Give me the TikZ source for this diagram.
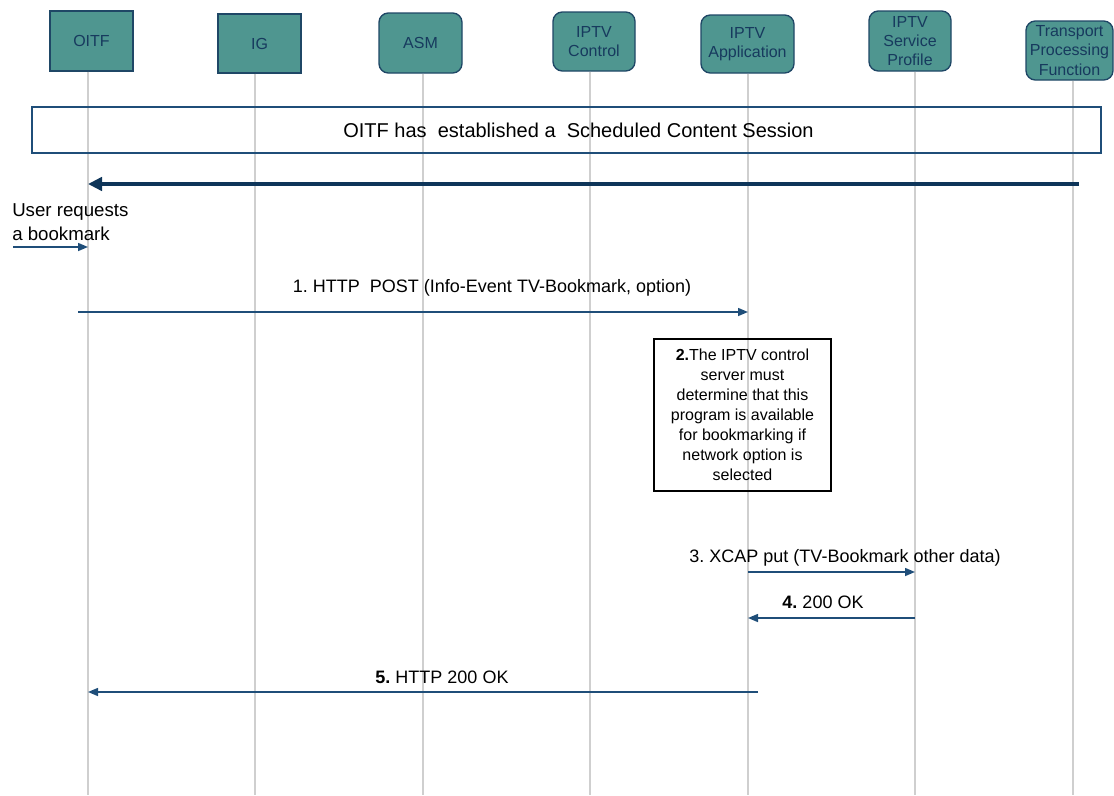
\documentclass[tikz,border=0pt]{standalone}
\usepackage{fontspec}
\setmainfont{Liberation Sans}
\usepackage{xcolor}
\definecolor{ActorTeal}{HTML}{4F9690}
\definecolor{ActorEdge}{HTML}{1F4766}
\definecolor{ActorText}{HTML}{173A5E}
\definecolor{MsgNavy}{HTML}{1F4E79}
\definecolor{FlowNavy}{HTML}{0E3559}
\definecolor{LifeGray}{HTML}{CFCFCF}
\usepackage{tikz}
\usetikzlibrary{arrows.meta,positioning,calc}
\frenchspacing

\begin{document}
\begin{tikzpicture}[x=0.75pt, y=-0.75pt,
    actorbox/.style={draw=ActorEdge, line width=1pt, fill=ActorTeal, text=ActorText,
      font=\fontsize{12}{14.4}\selectfont, align=center, inner sep=0pt},
    actorround/.style={actorbox, rounded corners=7pt},
    lifeline/.style={draw=LifeGray, line width=1.1pt},
    msg/.style={draw=MsgNavy, line width=1.1pt, -{Triangle[length=7.5pt,width=6pt]}},
    msglabel/.style={font=\fontsize{13.5}{16}\selectfont, inner sep=0pt, anchor=base},
    flow/.style={draw=FlowNavy, line width=3.4pt, -{Triangle[length=10.5pt,width=10pt]}},
    notebox/.style={draw=black, line width=0.8pt, align=center, minimum width=132.75pt,
      minimum height=114pt, font=\fontsize{12}{15}\selectfont, inner sep=0pt}]
    \useasboundingbox (0,0) rectangle (1114,796);

    % Actors across the top
    \node[actorbox, minimum width=62.25pt, minimum height=45pt] (oitf) at (91.5,41) {OITF};
    \node[actorbox, minimum width=62.25pt, minimum height=44.25pt] (ig) at (259.5,43.5) {IG};
    \node[actorround, minimum width=62.25pt, minimum height=45pt] (asm) at (420.5,43) {ASM};
    \node[actorround, minimum width=61.5pt, minimum height=44.25pt] (ctrl) at (594,41.5) {IPTV\\Control};
    \node[actorround, minimum width=69.75pt, minimum height=43.5pt] (app) at (747.5,44) {IPTV\\Application};
    \node[actorround, minimum width=61.5pt, minimum height=45pt] (prof) at (910,41) {IPTV\\Service\\Profile};
    \node[actorround, minimum width=65.25pt, minimum height=44.25pt] (tpf) at (1069.5,50.5) {Transport\\Processing\\Function};

    % Lifelines
    \foreach \n/\lx in {oitf/88, ig/255, asm/423, ctrl/590, app/748, prof/915, tpf/1073} {
      \coordinate (\n-end) at (\lx,795);
      \draw[lifeline] (\n-end |- \n.south) -- (\n-end);
    }

    % Session already in place
    \node[draw=MsgNavy, line width=1.1pt, minimum width=801.75pt, minimum height=34.5pt,
      font=\fontsize{15}{18}\selectfont, inner sep=0pt] (session) at (566.5,130)
      {\hspace*{18pt}OITF has~ established a~ Scheduled Content Session};
    \coordinate (tpfsrc) at (1079,184);
    \draw[flow] (tpfsrc) -- (oitf-end |- tpfsrc);

    % User trigger
    \node[anchor=north west, align=left, font=\fontsize{14}{18}\selectfont, inner sep=0pt]
      (usertext) at (12,203) {User requests\\a bookmark};
    \coordinate (userfrom) at (13,247);
    \draw[msg] (userfrom) -- (oitf-end |- userfrom);

    % 1. bookmark request
    \coordinate (m1from) at (78,312);
    \draw[msg] (m1from) -- (app-end |- m1from);
    \node[msglabel] (m1) at (492,292) {1. HTTP~ POST (Info-Event TV-Bookmark, option)};

    % 2. check in the application
    \node[notebox] (ctrlnote) at (742.5,415) {\textbf{2.}The IPTV control\\server must\\determine that this\\program is available\\for bookmarking if\\network option is\\selected};

    % 3. and 4. store in the profile
    \draw[msg] (app-end |- 0,572) -- (prof-end |- 0,572);
    \node[msglabel] (m3) at (845,562) {3. XCAP put (TV-Bookmark other data)};
    \draw[msg] (prof-end |- 0,618) -- (app-end |- 0,618);
    \node[msglabel] (m4) at (823,608) {\textbf{4.} 200 OK};

    % 5. answer to the OITF
    \coordinate (m5from) at (758,692);
    \draw[msg] (m5from) -- (oitf-end |- m5from);
    \node[msglabel] (m5) at (442,683) {\textbf{5.} HTTP 200 OK};
  \end{tikzpicture}
\end{document}
